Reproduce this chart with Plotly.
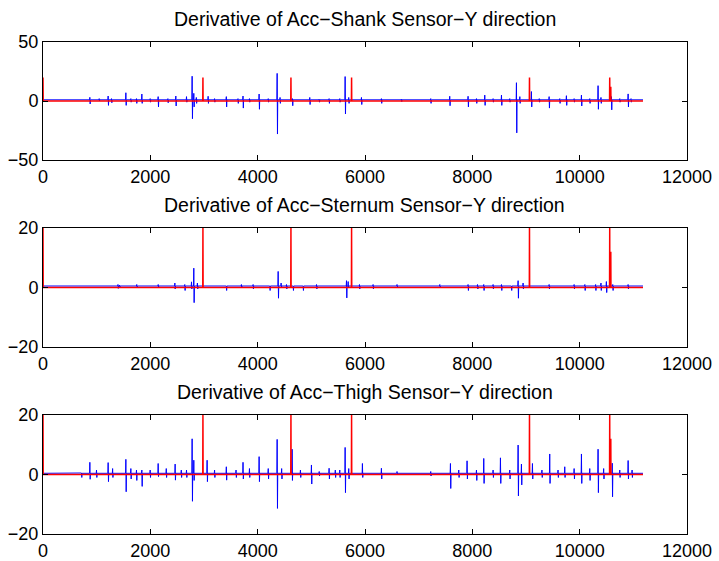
import plotly.graph_objects as go

# Sample range of the recordings
x_end = 11180

# Event marker (red): pulse positions and heights
event_x = [0, 2980, 4620, 5750, 9065, 10560, 10580]
event_h = [20, 20, 20, 20, 20, 20, 12]

# Shank sensor derivative: burst positions, positive and negative extremes
shank_base = 1.0
shank_x = [876, 1050, 1217, 1280, 1547, 1640, 1745, 1845, 2000, 2149, 2330, 2478, 2677,
           2782, 2813, 2860, 3080, 3200, 3419, 3636, 3730, 3850, 4030, 4200, 4366, 4420,
           4651, 4974, 5150, 5334, 5533, 5633, 5700, 5937, 6309, 6682, 7228, 7582, 7924,
           8080, 8235, 8390, 8546, 8700, 8825, 8888, 9104, 9250, 9434, 9632, 9756, 9900,
           10036, 10191, 10346, 10400, 10595, 10750, 10906, 10960]
shank_hi = [3.1, 2, 4.2, 2, 7, 2, 2, 5.9, 2, 3.7, 2, 4.2, 3.7,
            21, 6.5, 3, 4, 2, 3.7, 2, 4.2, 2, 5.9, 2, 23.4, 3,
            2, 3, 1.5, 2, 2, 20.7, 3, 3, 2, 1.5, 2, 4, 4,
            2, 5, 2, 5, 2, 15.5, 3.7, 8, 2, 3.7, 2, 4.5, 2,
            5, 2, 13, 3, 3.7, 2, 6, 2]
shank_lo = [-2.5, 0, -3.7, -1.5, -3.7, -1, -2, -2, -1, -5, -1.5, -4.2, -1,
            -15, -5, -2, -2, -1, -5, -2, -6, -1, -7, -1, -28, -2,
            -4, -3, -1, -2, -1, -11, -2, -3, -2, -0.5, -2, -4, -5,
            -2, -3.7, -1, -3.7, -1, -27, -2, -5, -1, -6, -2, -3.7, -1,
            -4.2, -2, -7, -2, -7.5, -1, -5, -1]

# Sternum sensor derivative
sternum_base = 0.5
sternum_x = [1400, 1430, 1750, 2150, 2460, 2645, 2770, 2813, 2880, 3419, 3700, 3918, 4229,
             4385, 4440, 4540, 4664, 4850, 5100, 5658, 5689, 5900, 6154, 6600, 7397, 7924,
             8100, 8216, 8390, 8546, 8731, 8856, 8949, 9434, 9900, 10100, 10300, 10400,
             10501, 10620, 10906]
sternum_hi = [1, 0.8, 1, 1, 1.5, 1, 1.9, 6.5, 1.5, 0.5, 1, 1, 0.5,
              5.4, 1.5, 1, 0.5, 0.5, 1, 2.3, 2, 1, 1, 1, 1, 1,
              1, 1, 1, 1, 0.5, 2.3, 1.5, 1, 1, 1, 1, 1.5,
              2, 1, 1]
sternum_lo = [-0.3, 0, 0, 0, -0.5, -1, -0.5, -5.1, -0.5, -1, 0, -0.5, -1,
              -3.6, 0, -0.5, -1, -1, -0.5, -3.5, 0, -0.5, -0.5, 0, 0, -1,
              -0.5, -1, -0.5, -1, -1, -3.6, -0.5, -0.5, -0.5, -1, -1, -1,
              -1.7, -1, -0.5]

# Thigh sensor derivative
thigh_base = 0.4
thigh_x = [720, 876, 1000, 1217, 1300, 1547, 1640, 1745, 1845, 2000, 2149, 2300, 2465,
           2580, 2677, 2782, 2813, 3061, 3200, 3419, 3600, 3730, 3850, 4030, 4200, 4366,
           4450, 4645, 4800, 5005, 5150, 5334, 5450, 5533, 5633, 5700, 5955, 6309, 6600,
           7228, 7595, 7750, 7905, 8080, 8216, 8390, 8527, 8700, 8856, 8918, 9123, 9300,
           9445, 9600, 9725, 9900, 10036, 10191, 10346, 10450, 10610, 10750, 10906, 10980]
thigh_hi = [0.5, 4.1, 1.5, 4, 2, 5.1, 2, 1.5, 1.5, 1.5, 3.7, 2, 3.5,
            1.5, 1.5, 12, 4.8, 4.8, 1.5, 2.6, 1.5, 4.1, 2, 6, 2, 11.8,
            2, 8.5, 1.5, 3.2, 1, 2.1, 1.5, 1.5, 9.1, 2, 3.7, 2.1, 1,
            1, 3.7, 1.5, 4.6, 1.5, 5.4, 1.5, 5.6, 1.5, 9.9, 3.5, 3.7, 1.5,
            6.9, 1.5, 2.6, 2, 6.9, 2, 8.5, 2, 3.8, 1.5, 4.7, 1.5]
thigh_lo = [-1, -1.6, -1, -2.4, -1, -5.8, -1.5, -2, -4, -1, -0.7, -1, -1.9,
            -1, -1, -9, -2, -2.4, -1, -1.9, -1, -1.5, -1, -2.4, -1.5, -11.4,
            -1.5, -2, -1, -3.2, -0.5, -1.5, -1, -1, -6.1, -1.5, -1, -1.5, 0,
            -0.5, -4.7, -1, -1.5, -2, -3, -1, -3, -1.5, -7.2, -3.5, -1.5, -1,
            -3, -1, -1, -1.5, -3, -2, -6.1, -1.5, -7.5, -1, -1.5, -1]

titles = ["Derivative of Acc\u2212Shank Sensor\u2212Y direction",
          "Derivative of Acc\u2212Sternum Sensor\u2212Y direction",
          "Derivative of Acc\u2212Thigh Sensor\u2212Y direction"]
y_ranges = [(-50, 50), (-20, 20), (-20, 20)]
x_ticks = [0, 2000, 4000, 6000, 8000, 10000, 12000]


def burst_trace(base, xs, hi, lo):
    """Polyline that sits on the baseline and swings up then down at each burst."""
    px, py = [0], [base]
    for x, h, l in zip(xs, hi, lo):
        px += [x - 8, x - 3, x + 3, x + 8]
        py += [base, h, l, base]
    px.append(x_end)
    py.append(base)
    return px, py


def event_trace():
    px, py = [], []
    for x, h in zip(event_x, event_h):
        if x == 0:
            px += [0, 0, 4]
            py += [0, h, 0]
        else:
            px += [x - 3, x, x + 3]
            py += [0, h, 0]
    px.append(x_end)
    py.append(0)
    return px, py


W, H = 719, 561
# plot boxes in pixels: (top, bottom)
boxes = [(42, 160), (228, 347), (415, 534)]
left, right = 43, 687

fig = go.Figure()
series = [(shank_base, shank_x, shank_hi, shank_lo),
          (sternum_base, sternum_x, sternum_hi, sternum_lo),
          (thigh_base, thigh_x, thigh_hi, thigh_lo)]

family = "Liberation Sans, Arial, sans-serif"
font = dict(family=family, size=18, color="black")
layout = dict(template="none", width=W, height=H, autosize=False,
              margin=dict(l=0, r=0, t=0, b=0, pad=0, autoexpand=False),
              paper_bgcolor="white", plot_bgcolor="white", showlegend=False,
              font=font, annotations=[])

for i, (base, xs, hi, lo) in enumerate(series):
    n = "" if i == 0 else str(i + 1)
    bx, by = burst_trace(base, xs, hi, lo)
    ex, ey = event_trace()
    fig.add_trace(go.Scatter(x=bx, y=by, mode="lines", xaxis="x" + n, yaxis="y" + n,
                             line=dict(color="#0000ff", width=1), hoverinfo="skip"))
    fig.add_trace(go.Scatter(x=ex, y=ey, mode="lines", xaxis="x" + n, yaxis="y" + n,
                             line=dict(color="#ff0000", width=1.5), hoverinfo="skip"))
    top, bot = boxes[i]
    ylo, yhi = y_ranges[i]
    common = dict(showline=True, linecolor="black", linewidth=1, mirror="ticks",
                  ticks="inside", ticklen=5, tickwidth=1, tickcolor="black",
                  showgrid=False, zeroline=False, automargin=False, tickfont=font)
    layout["xaxis" + n] = dict(domain=[left / W, right / W], range=[0, 12000],
                               anchor="y" + n, tickvals=x_ticks,
                               ticktext=[str(v) for v in x_ticks], **common)
    layout["yaxis" + n] = dict(domain=[1 - bot / H, 1 - top / H], range=[ylo, yhi],
                               anchor="x" + n, tickvals=[ylo, 0, yhi],
                               ticktext=[str(ylo).replace("-", "\u2212"), "0", str(yhi)],
                               **common)
    layout["annotations"].append(dict(text=titles[i], xref="paper", yref="paper",
                                      x=(left + right) / 2 / W, y=1 - (top - 10) / H,
                                      xanchor="center", yanchor="bottom",
                                      showarrow=False,
                                      font=dict(family=family, size=19.5,
                                                color="black")))

fig.update_layout(**layout)
fig.write_html("out.html")
